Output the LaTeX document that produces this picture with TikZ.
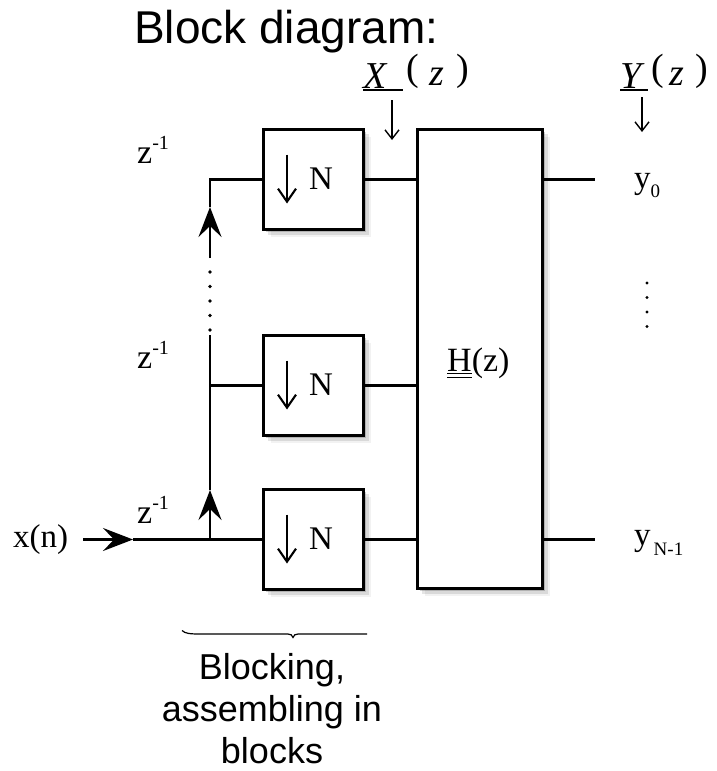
\documentclass[tikz,border=0pt]{standalone}
\usepackage{fontspec}
\setmainfont{Liberation Serif}
\newfontfamily\sansf{Liberation Sans}
\usetikzlibrary{arrows.meta,shadows}
\newcommand\fs[1]{\fontsize{#1}{#1}\selectfont}
\newcommand\ulbox[2]{\rlap{\rule[-2.6pt]{#1}{1.4pt}}\makebox[#1][l]{#2}}
\newcommand\dul[1]{\setbox0\hbox{#1}\rlap{\rule[-3pt]{\wd0}{1.1pt}}\rlap{\rule[-7pt]{\wd0}{1.1pt}}\box0}
\begin{document}
\begin{tikzpicture}[x=1pt,y=-1pt,
  shad/.style={drop shadow={shadow xshift=2.5pt,shadow yshift=-2.5pt,fill=black,opacity=0.18},
               drop shadow={shadow xshift=5pt,shadow yshift=-5pt,fill=black,opacity=0.10},
               drop shadow={shadow xshift=7.5pt,shadow yshift=-7.5pt,fill=black,opacity=0.05}},
  blk/.style={draw,line width=2.6pt,fill=white,inner sep=0pt,minimum width=100.4pt,minimum height=100.4pt,shad},
  bigblk/.style={blk,minimum width=125.4pt,minimum height=459.4pt},
  sig/.style={line width=2.5pt},
  flow/.style={sig,-{Stealth[length=30pt,width=23pt,inset=11pt]}},
  dnarr/.style={line width=2.1pt,-{Straight Barb[length=13pt,width=18pt]}},
  thinarr/.style={line width=1.4pt,-{Straight Barb[length=9pt,width=14pt]}},
  lbl/.style={inner sep=0pt,anchor=base west,font=\fs{33}},
  dotf/.style={fill=black},
  ]
\useasboundingbox (0,0) rectangle (716,771);

% title
\node[inner sep=0pt,anchor=base west,font=\sansf\fs{46}] (title) at (134,43) {Block diagram:};

% X(z), Y(z)
\node[lbl,font=\fs{38}] (Xz) at (363,88) {\ulbox{40pt}{\textit{X}}\hspace{3pt}\raisebox{7.5pt}{\fs{38}(}\hspace{11pt}\raisebox{3pt}{\textit{z}}\hspace{12pt}\raisebox{7.5pt}{\fs{38})}};
\node[lbl,font=\fs{38}] (Yz) at (620,88) {\ulbox{28pt}{\textit{Y}}\hspace{3pt}\raisebox{7.5pt}{\fs{38}(}\hspace{6pt}\raisebox{3pt}{\textit{z}}\hspace{11pt}\raisebox{7.5pt}{\fs{38})}};
\coordinate (xa1) at (392,100);
\coordinate (xa2) at (392,140);
\coordinate (ya1) at (642,97);
\coordinate (ya2) at (642,132);
\draw[thinarr] (xa1) -- (xa2);
\draw[thinarr] (ya1) -- (ya2);

% blocks
\node[blk] (b1) at (313.5,179.5) {};
\node[blk] (b2) at (313.5,385.5) {};
\node[blk] (b3) at (313.5,539.5) {};
\node[bigblk] (H) at (480,359) {};

% box labels
\foreach \b/\y in {b1/189.5,b2/395.5,b3/549.5}{
  \draw[dnarr] ([xshift=-26.5pt,yshift=25pt]\b.center) -- ([xshift=-26.5pt,yshift=-24pt]\b.center);
  \node[lbl] (n\b) at (309,\y) {N};
}
\node[lbl,font=\fs{34}] (hz) at (447,371) {\dul{H}(z)};

% input chain
\coordinate (xin) at (83,539.5);
\coordinate (a0) at (133,539.5);
\coordinate (j) at (210,539.5);
\coordinate (u1) at (210,490);
\coordinate (v1) at (210,335);
\coordinate (v2) at (210,258);
\coordinate (u2) at (210,207);
\draw[flow] (xin) -- (a0);
\draw[sig] (a0) -- (b3.west);
\draw[flow] (j) -- (u1);
\draw[sig] (u1) -- (v1);
\draw[sig] (b2.west -| j) -- (b2.west);
\draw[flow] (v2) -- (u2);
\draw[sig] (u2) |- (b1.west);
\foreach \y in {272,286.5,301,315.5,330} \fill[dotf] (210,\y) circle (1.8pt);

% to H
\draw[sig] (b1.east) -- (b1.east -| H.west);
\draw[sig] (b2.east) -- (b2.east -| H.west);
\draw[sig] (b3.east) -- (b3.east -| H.west);
\coordinate (o0) at (595,179.5);
\coordinate (o1) at (595,539.5);
\draw[sig] (o0 -| H.east) -- (o0);
\draw[sig] (o1 -| H.east) -- (o1);
\foreach \y in {283,297.5,312,326.5} \fill[dotf] (647,\y) circle (1.6pt);

% labels
\node[lbl] (xn) at (13,547) {x(n)};
\node[lbl,font=\fs{34}] (z1) at (137,163) {z\raisebox{14pt}{\fs{20}-1}};
\node[lbl,font=\fs{34}] (z2) at (137,368) {z\raisebox{14pt}{\fs{20}-1}};
\node[lbl,font=\fs{34}] (z3) at (137,523) {z\raisebox{14pt}{\fs{20}-1}};
\node[lbl,font=\fs{33}] (y0) at (634,188) {y\raisebox{-9pt}{\fs{19}0}};
\node[lbl,font=\fs{33}] (yN) at (634,545) {y\hspace{3pt}\raisebox{-10pt}{\fs{19}N-1}};

% brace
\draw[line width=1.2pt] (182,630.5) .. controls (185,633.5) and (190,634) .. (200,634) -- (288,634)
  .. controls (291,634) and (292,635) .. (293,637.5) .. controls (294,635) and (295,634) .. (298,634) -- (367,634);
\node[inner sep=0pt,anchor=base,align=center,font=\sansf\fontsize{36}{42}\selectfont] (blk) at (272,763) {Blocking,\\assembling in\\blocks};
\end{tikzpicture}
\end{document}
